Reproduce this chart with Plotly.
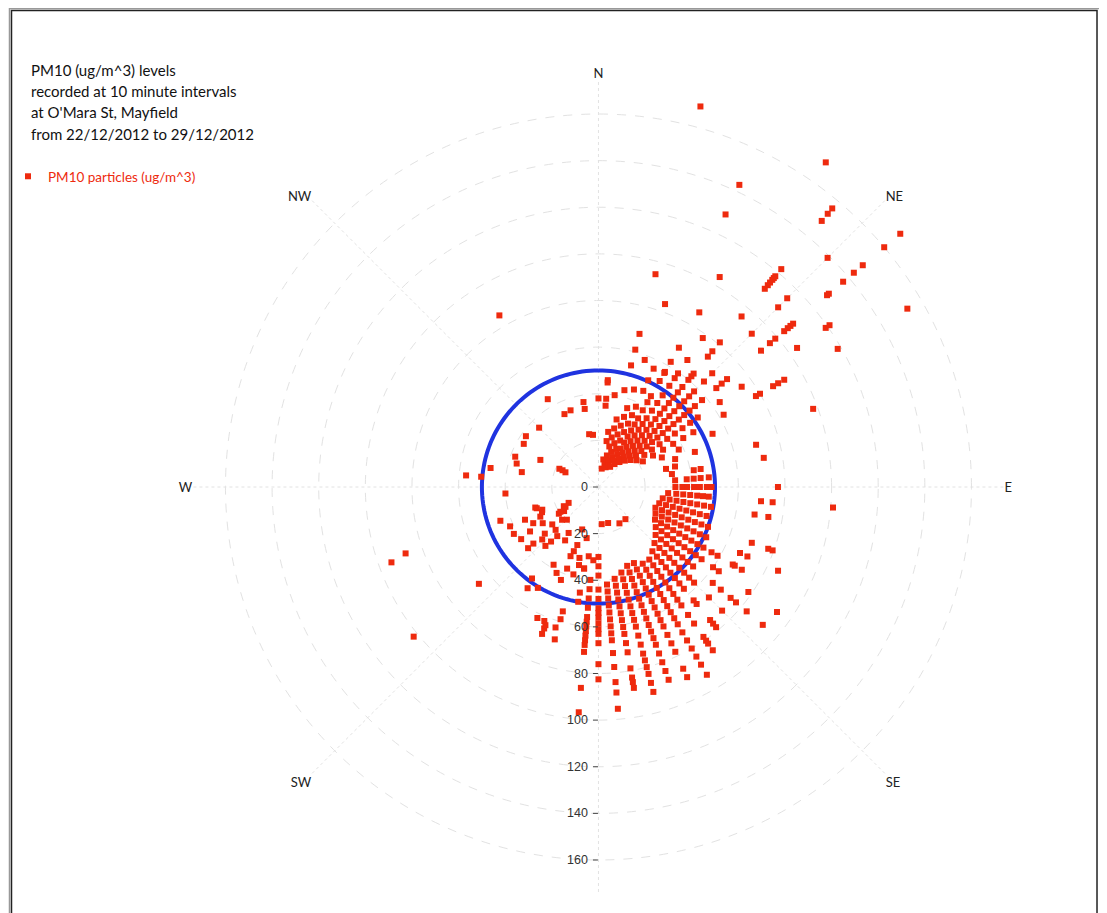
import plotly.graph_objects as go

# text
title_lines = ["PM10 (ug/m^3) levels",
               "recorded at 10 minute intervals",
               "at O'Mara St, Mayfield",
               "from 22/12/2012 to 29/12/2012"]
series_name = "PM10 particles (ug/m^3)"

# axes
compass_deg = [0, 45, 90, 135, 180, 225, 270, 315]
compass_labels = ["N", "NE", "E", "SE", "", "SW", "W", "NW"]
radial_ticks = [0, 20, 40, 60, 80, 100, 120, 140, 160]
pm10_limit = 50

# wind direction (deg) -> PM10 readings (ug/m^3)
ne_rays = {
    0: [38],
    5: [35, 38, 45, 46],
    10: [8, 12, 20, 24, 40],
    15: [10, 14, 18, 22, 26, 30, 43, 54, 61, 68, 94.5, 169],
    20: [9, 12, 16, 20, 24, 28, 32, 36, 44.5, 58, 83.5],
    25: [10, 14, 18, 22, 26, 30, 34, 38, 45.5, 50.5, 56, 129, 143],
    30: [10, 13, 16, 19, 22, 25, 28, 31, 34, 38, 42, 45, 52.5, 56.5, 57, 62, 69, 86.5, 104],
    35: [12, 15, 18, 21, 24, 27, 30, 33, 36, 40, 44, 48, 53, 57, 59.5, 66.5, 78, 170],
    40: [14, 17, 20, 23, 26, 29, 32, 35, 38, 41, 44, 47, 50, 53, 56, 60, 62, 63.5, 73, 76, 81,
         95.5, 111, 113, 114.5, 116, 117, 118, 122, 149, 153, 156],
    45: [16, 19, 22, 25, 28, 31, 34, 37, 40, 43, 46, 49, 52, 55, 58, 64, 69, 93, 109, 114.5, 139],
    50: [18, 21, 24, 27, 30, 33, 36, 39, 42, 45, 48, 51, 54, 58, 66, 69, 72, 91, 96, 99, 104, 106,
         107.5, 109, 128, 129, 137, 143, 148, 160, 169],
    55: [20, 24, 28, 32, 36, 40, 44, 48, 52, 63.5, 75, 104, 119, 121],
    60: [22, 27, 32, 37, 42, 47, 62, 78, 80, 86.5, 89, 92, 118.5, 153],
    65: [30, 38, 54],
    70: [35, 44, 98],
}

e_rays = {
    75: [30, 34, 70],
    80: [32, 41.5, 44.5, 72],
    85: [33, 38, 41, 44, 47.5],
    90: [33, 36, 38, 41, 43.5, 46.5, 48.5, 77],
    95: [30, 33.5, 36.5, 39.5, 42.5, 45, 47.5, 70, 75, 101],
    100: [28, 31, 34, 37, 40, 43, 46, 49, 68, 74],
    105: [27, 30, 33, 36, 39, 42, 45, 48],
    110: [26, 29, 32, 35, 38, 41, 44, 47, 50, 70, 77.5, 79.5],
    115: [27, 30, 33, 36, 39, 42, 45, 48, 51, 67, 70.5, 85],
    120: [28, 31, 34, 37, 40, 43, 46, 49, 52, 56, 59, 66.5, 67.5, 71],
    125: [30, 33, 36, 39, 42, 45, 48, 51, 54, 60, 63, 78.5, 93.5],
    130: [32, 35, 38, 41, 44, 47, 50, 53, 64, 68.5, 74, 77, 83, 92],
    135: [34, 37, 40, 43, 46, 49, 52, 55, 58, 67, 75],
    140: [18, 36, 39, 42, 45, 48, 51, 54, 57, 63.5, 65.5, 74.5, 76.5, 78.5],
    145: [38, 41, 44, 47, 50, 53, 56, 59, 62, 67, 71.5, 78.5, 80.5, 82, 85.5],
}

s_rays = {
    150: [18, 38, 41, 44, 47, 50, 53, 56, 59, 62, 65, 68, 72, 76, 80, 84, 88, 93],
    155: [36, 39, 42, 45, 48, 51, 54, 57, 60, 63, 66, 70, 74, 78, 86, 90],
    160: [36, 39, 42, 45, 48, 51, 54, 57, 60, 63, 66, 69, 72, 76, 80, 84, 88],
    165: [16, 38, 41, 44, 47, 50, 53, 56, 59, 62, 66, 70, 74, 77, 80, 83, 87, 91],
    170: [40, 43, 46, 49, 52, 55, 58, 61, 64, 68, 72, 79, 83, 85, 87.5],
    175: [16, 42, 45, 48, 51, 54, 57, 60, 63, 66, 71.5, 77.5, 84, 88.5, 95.5],
    180: [30, 34, 38, 44, 48, 52, 54, 56, 58.5, 61, 63, 67, 76, 82.5],
    185: [40, 44, 48, 52, 56, 58, 60, 62, 64, 66, 68, 71, 86.5, 97],
    190: [35.5, 46, 50],
}

sw_dir = [266, 251, 246, 241, 236, 246, 237, 252, 248, 243,
          241, 237, 229, 221, 227, 222, 229, 229, 231, 225,
          236, 235, 228, 224, 242, 241, 220, 212, 213, 201,
          202, 195, 200, 201, 193, 210, 206, 202, 201, 196,
          194, 190, 188, 184, 216, 215, 211, 205, 202, 201,
          196, 196, 197, 196, 201, 201, 250, 251, 231, 231,
          251, 246, 237, 239]
sw_pm10 = [40, 44.5, 41.5, 41.5, 40, 34.5, 35, 28.5, 26, 28,
           32, 28.5, 30.5, 31, 33, 34, 40, 37, 25.5, 26,
           20.5, 18, 21, 19.5, 14.5, 17, 27.5, 27, 23.5, 29.5,
           32, 31.5, 26.5, 19.5, 22.5, 38.5, 41, 43, 37.5, 39,
           34.5, 35.5, 30, 31.5, 48.5, 53, 50.5, 62, 62, 67.5,
           55.5, 59, 63, 68, 65, 63.5, 94.5, 87.5, 66, 102,
           28, 26.5, 19.5, 16.5]

nw_dir = [330, 330, 335, 340, 315, 305, 300, 290, 286, 281,
          295, 295, 295, 294, 280, 275, 275, 350, 350, 350, 354]
nw_pm10 = [85, 43.5, 34.5, 35, 36, 38, 37, 38, 36.5, 33.5,
           27.5, 18.5, 17, 15.5, 47, 57, 50.5, 37, 34, 23, 22.5]


def expand(rays):
    d, v = [], []
    for ang, vals in rays.items():
        d += [ang] * len(vals)
        v += vals
    return d, v


theta, r = [], []
for rays in (ne_rays, e_rays, s_rays):
    d, v = expand(rays)
    theta += d
    r += v
theta += sw_dir + nw_dir
r += sw_pm10 + nw_pm10

# page has an 8px body margin, so the figure is a bit smaller than the window
W, H = 1099, 905
cx, cy, rad = 590, 479, 406
r_max = 174

fig = go.Figure()

# reference ring at the limit value
ring_theta = list(range(0, 361, 2))
fig.add_trace(go.Scatterpolar(theta=ring_theta, r=[pm10_limit] * len(ring_theta),
                              mode="lines", line=dict(color="#1f33e0", width=4),
                              showlegend=False, hoverinfo="skip"))

fig.add_trace(go.Scatterpolar(theta=theta, r=r, mode="markers", name=series_name,
                              marker=dict(symbol="square", size=6, color="#ee2a0e")))

annotations = []
for i, line in enumerate(title_lines):
    annotations.append(dict(text=line, x=20 / W, y=1 - (62 + 21.2 * i) / H, xref="paper", yref="paper",
                            xanchor="left", yanchor="middle", showarrow=False,
                            font=dict(family="Lato", size=15, color="#111")))

shapes = [
    dict(type="rect", xref="paper", yref="paper", x0=0.5 / W, x1=1093 / W, y0=-0.1, y1=1 - 0.5 / H,
         line=dict(color="#999", width=1.5)),
    dict(type="rect", xref="paper", yref="paper", x0=2.5 / W, x1=1089 / W, y0=-0.1, y1=1 - 2.5 / H,
         line=dict(color="#222", width=1.5)),
]

fig.update_layout(
    width=W, height=H,
    margin=dict(l=0, r=0, t=0, b=0),
    paper_bgcolor="white",
    font=dict(family="Lato", size=13, color="#222"),
    annotations=annotations,
    shapes=shapes,
    legend=dict(x=-1 / W, y=1 - 153 / H, xanchor="left", yanchor="top",
                font=dict(family="Lato", size=13.5, color="#ee2a0e"), bgcolor="rgba(0,0,0,0)"),
    polar=dict(
        domain=dict(x=[(cx - rad) / W, (cx + rad) / W], y=[1 - (cy + rad) / H, 1 - (cy - rad) / H]),
        bgcolor="white",
        radialaxis=dict(range=[0, r_max], tickvals=radial_ticks, angle=270, tickangle=-90,
                        side="clockwise", ticks="outside", ticklen=5, tickcolor="#444",
                        showline=False, gridcolor="#e2e2e2", griddash="dash", gridwidth=1,
                        tickfont=dict(family="Arial", size=12.5, color="#333")),
        angularaxis=dict(rotation=90, direction="clockwise", tickvals=compass_deg,
                         ticktext=compass_labels, showline=False, ticks="",
                         gridcolor="#e2e2e2", griddash="dot", gridwidth=1,
                         tickfont=dict(family="Lato", size=13, color="#222")),
    ),
)

fig.write_html("out.html")
